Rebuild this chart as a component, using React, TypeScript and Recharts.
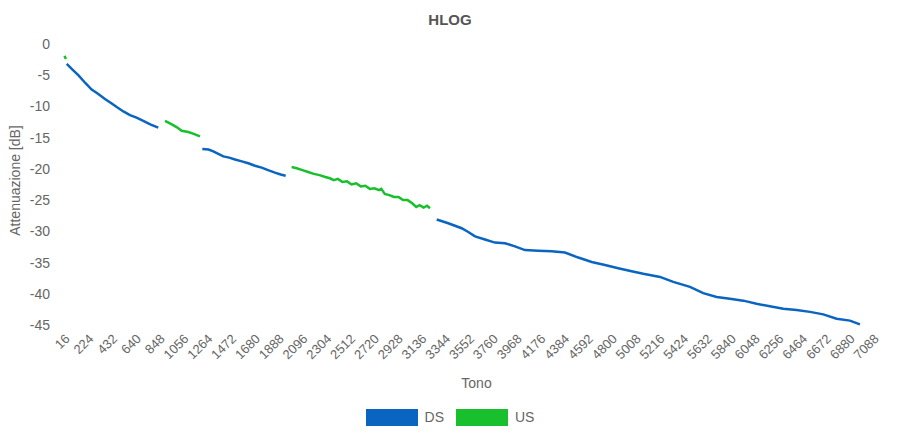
import { Legend, Line, LineChart, XAxis, YAxis } from "recharts"

const dsColor = "#0a65c0"
const usColor = "#17c02c"
const textColor = "#666"

const xTicks = [
  16, 224, 432, 640, 848, 1056, 1264, 1472, 1680, 1888, 2096, 2304, 2512, 2720,
  2928, 3136, 3344, 3552, 3760, 3968, 4176, 4384, 4592, 4800, 5008, 5216, 5424,
  5632, 5840, 6048, 6256, 6464, 6672, 6880, 7088,
]
const yTicks = [0, -5, -10, -15, -20, -25, -30, -35, -40, -45]

// [tono, dB]
const us1 = [
  [20, -1.9],
  [33, -2.4],
]
const ds1 = [
  [40, -3.2], [90, -4.1], [141, -5.0], [200, -6.2], [258, -7.3], [316, -8.0],
  [374, -8.8], [430, -9.5], [477, -10.1], [535, -10.8], [593, -11.4],
  [650, -11.8], [709, -12.3], [775, -12.9], [840, -13.4],
]
const us2 = [
  [899, -12.3], [950, -12.8], [1000, -13.3], [1045, -13.9], [1103, -14.1],
  [1150, -14.4], [1205, -14.8],
]
const ds2 = [
  [1225, -16.8], [1280, -16.9], [1321, -17.2], [1365, -17.6], [1409, -18.0],
  [1460, -18.2], [1511, -18.5], [1570, -18.8], [1627, -19.1], [1685, -19.5],
  [1744, -19.8], [1800, -20.2], [1860, -20.6], [1910, -20.9], [1954, -21.1],
]
const us3 = [
  [2006, -19.7], [2050, -19.9], [2100, -20.2], [2150, -20.5], [2200, -20.8],
  [2250, -21.0], [2300, -21.3], [2340, -21.5], [2375, -21.8], [2410, -21.6],
  [2450, -22.1], [2490, -22.0], [2530, -22.5], [2570, -22.3], [2610, -22.8],
  [2650, -22.7], [2690, -23.2], [2730, -23.1], [2770, -23.4], [2790, -23.2],
  [2820, -24.0], [2860, -24.2], [2900, -24.5], [2940, -24.5], [2980, -25.0],
  [3020, -25.0], [3060, -25.5], [3095, -26.1], [3125, -25.8], [3160, -26.2],
  [3190, -25.9], [3215, -26.3],
]
const ds3 = [
  [3274, -28.1], [3375, -28.7], [3492, -29.5], [3550, -30.1], [3609, -30.8],
  [3696, -31.3], [3783, -31.8], [3871, -31.9], [3958, -32.4], [4046, -33.0],
  [4162, -33.1], [4279, -33.2], [4395, -33.4], [4512, -34.2], [4629, -34.9],
  [4745, -35.4], [4861, -35.9], [4978, -36.4], [5080, -36.8], [5226, -37.3],
  [5342, -38.1], [5488, -38.9], [5604, -39.9], [5721, -40.5], [5837, -40.8],
  [5954, -41.1], [6070, -41.6], [6186, -42.0], [6304, -42.4], [6420, -42.6],
  [6537, -42.9], [6653, -43.3], [6770, -44.0], [6886, -44.3], [6974, -44.9],
]

const toRows = (pts: number[][]) => pts.map(([tone, db]) => ({ tone, db }))

const segments = [
  { key: "us1", color: usColor, data: toRows(us1) },
  { key: "ds1", color: dsColor, data: toRows(ds1) },
  { key: "us2", color: usColor, data: toRows(us2) },
  { key: "ds2", color: dsColor, data: toRows(ds2) },
  { key: "us3", color: usColor, data: toRows(us3) },
  { key: "ds3", color: dsColor, data: toRows(ds3) },
]

const legendItems = [
  { name: "DS", color: dsColor },
  { name: "US", color: usColor },
]

function LegendBoxes() {
  return (
    <div style={{ display: "flex", justifyContent: "center", alignItems: "center", height: 34 }}>
      {legendItems.map((item) => (
        <div key={item.name} style={{ display: "flex", alignItems: "center", margin: "0 6px" }}>
          <span style={{ width: 52, height: 17, background: item.color, display: "inline-block" }} />
          <span style={{ marginLeft: 7, fontSize: 14, color: textColor }}>{item.name}</span>
        </div>
      ))}
    </div>
  )
}

export default function App() {
  return (
    <div style={{ margin: -8, position: "relative", width: 900, height: 437, fontFamily: "Arial, 'Liberation Sans', sans-serif" }}>
      <div
        style={{
          position: "absolute",
          top: 11,
          left: 0,
          width: 900,
          textAlign: "center",
          fontWeight: "bold",
          fontSize: 15,
          color: "#555",
        }}
      >
        HLOG
      </div>
      <LineChart width={900} height={437} margin={{ top: 44, right: 27, bottom: 3, left: 0 }}>
        <XAxis
          dataKey="tone"
          type="number"
          domain={[16, 7088]}
          ticks={xTicks}
          interval={0}
          angle={-45}
          textAnchor="end"
          tickLine={false}
          axisLine={false}
          height={75}
          fontSize={13}
          tick={{ fill: textColor }}
          label={{ value: "Tono", position: "insideBottom", offset: 12, dx: 8, fill: textColor, fontSize: 14 }}
        />
        <YAxis
          type="number"
          domain={[-45, 0]}
          ticks={yTicks}
          interval={0}
          width={64}
          tickLine={false}
          axisLine={false}
          tickMargin={8}
          fontSize={14}
          tick={{ fill: textColor }}
          label={{
            value: "Attenuazione [dB]",
            angle: -90,
            position: "insideLeft",
            offset: 15,
            dy: -4,
            fill: textColor,
            fontSize: 14,
            style: { textAnchor: "middle" },
          }}
        />
        <Legend
          verticalAlign="bottom"
          wrapperStyle={{ left: 0, width: 900 }}
          content={() => <LegendBoxes />}
        />
        {segments.map((s) => (
          <Line
            key={s.key}
            data={s.data}
            dataKey="db"
            type="linear"
            stroke={s.color}
            strokeWidth={2.5}
            dot={false}
            activeDot={false}
            legendType="none"
            isAnimationActive={false}
          />
        ))}
      </LineChart>
    </div>
  )
}
